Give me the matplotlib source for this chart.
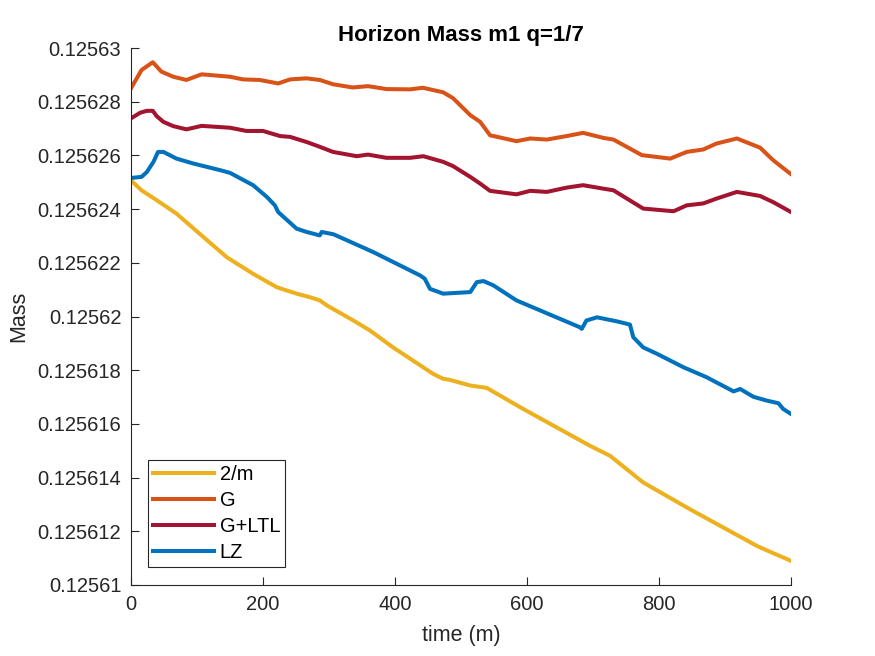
import numpy as np
import matplotlib
matplotlib.use("Agg")
import matplotlib.pyplot as plt
from matplotlib.ticker import MultipleLocator, FuncFormatter

plt.rcParams['font.family'] = ['Liberation Sans', 'DejaVu Sans']

# data (mass = 0.1256 + value * 1e-6)
t_2m = [0, 16, 39, 69, 105, 145, 185, 221, 251, 271, 286, 297, 337, 362, 397,
        458, 473, 483, 514, 539, 594, 695, 726, 776, 847, 948, 968, 1000]
m_2m = [25.07, 24.70, 24.33, 23.83, 23.06, 22.21, 21.59, 21.09, 20.85, 20.72,
        20.60, 20.41, 19.85, 19.48, 18.85, 17.86, 17.68, 17.64, 17.43, 17.34,
        16.56, 15.19, 14.81, 13.82, 12.82, 11.46, 11.24, 10.90]

t_g = [0, 16, 33, 46, 64, 84, 107, 150, 170, 195, 223, 241, 266, 286, 306, 336,
       359, 387, 423, 442, 473, 488, 514, 529, 544, 584, 605, 630, 660, 685, 716,
       731, 774, 817, 842, 867, 887, 918, 953, 973, 1000]
m_g = [28.50, 29.18, 29.47, 29.12, 28.93, 28.81, 29.02, 28.93, 28.83, 28.81,
       28.68, 28.83, 28.87, 28.81, 28.65, 28.53, 28.58, 28.47, 28.46, 28.52,
       28.35, 28.13, 27.50, 27.25, 26.75, 26.53, 26.63, 26.59, 26.72, 26.84,
       26.65, 26.59, 26.01, 25.88, 26.13, 26.22, 26.44, 26.63, 26.29, 25.82, 25.30]

t_gltl = [0, 14, 24, 33, 39, 49, 64, 84, 107, 150, 175, 200, 226, 241, 266, 286,
          306, 342, 359, 387, 423, 443, 473, 488, 514, 529, 544, 584, 605, 630,
          660, 685, 716, 731, 776, 822, 842, 867, 887, 918, 953, 973, 1000]
m_gltl = [27.38, 27.59, 27.66, 27.66, 27.46, 27.25, 27.09, 26.97, 27.10, 27.03,
          26.91, 26.91, 26.72, 26.69, 26.50, 26.32, 26.13, 25.97, 26.03, 25.91,
          25.91, 25.97, 25.76, 25.60, 25.20, 24.95, 24.68, 24.55, 24.68, 24.64,
          24.80, 24.89, 24.76, 24.70, 24.02, 23.92, 24.14, 24.21, 24.39, 24.64,
          24.49, 24.26, 23.89]

t_lz = [0, 16, 24, 34, 41, 49, 69, 94, 135, 150, 185, 206, 218, 223, 251, 266,
        286, 289, 307, 367, 438, 445, 453, 473, 514, 524, 534, 549, 584, 680,
        683, 690, 706, 736, 756, 761, 776, 797, 837, 872, 913, 923, 943, 963,
        981, 988, 1000]
m_lz = [25.16, 25.20, 25.38, 25.76, 26.13, 26.13, 25.88, 25.70, 25.45, 25.35,
        24.89, 24.45, 24.14, 23.89, 23.27, 23.15, 23.02, 23.15, 23.06, 22.40,
        21.53, 21.41, 21.03, 20.85, 20.91, 21.28, 21.32, 21.16, 20.60, 19.60,
        19.54, 19.85, 19.97, 19.82, 19.70, 19.23, 18.85, 18.61, 18.11, 17.74,
        17.21, 17.30, 17.01, 16.87, 16.77, 16.56, 16.37]

labels = ['2/m', 'G', 'G+LTL', 'LZ']
colors = ['#EDB120', '#D95319', '#A2142F', '#0072BD']

fig = plt.figure(figsize=(8.75, 6.56), dpi=100)
ax = fig.add_axes([131 / 875, 1 - 585 / 656, 660 / 875, 537 / 656])

series = [(t_2m, m_2m), (t_g, m_g), (t_gltl, m_gltl), (t_lz, m_lz)]
for (t, m), lab, c in zip(series, labels, colors):
    ax.plot(t, 0.1256 + np.array(m) * 1e-6, color=c, lw=2.9, label=lab)

ax.set_xlim(0, 1000)
ax.set_ylim(0.12561, 0.12563)
ax.xaxis.set_major_locator(MultipleLocator(200))
ax.yaxis.set_major_locator(MultipleLocator(2e-6))
ax.yaxis.set_major_formatter(FuncFormatter(lambda v, p: '%.6g' % v))

dark = '#262626'
for s in ['top', 'right']:
    ax.spines[s].set_visible(False)
for s in ['left', 'bottom']:
    ax.spines[s].set_color(dark)
    ax.spines[s].set_linewidth(0.8)
ax.tick_params(direction='in', length=6, width=0.8, colors=dark,
               labelsize=14.5, pad=7)

ax.set_title('Horizon Mass m1 q=1/7', fontsize=16, fontweight='bold', pad=5)
ax.set_xlabel('time (m)', fontsize=15.5, color=dark, labelpad=8)
ax.set_ylabel('Mass', fontsize=15.5, color=dark, labelpad=6)

leg = ax.legend(loc='lower left', bbox_to_anchor=(0.026, 0.034),
                borderaxespad=0, fontsize=14.5, handlelength=3.0,
                handletextpad=0.3, labelspacing=0.35, borderpad=0.25,
                fancybox=False, framealpha=1)
leg.get_frame().set_edgecolor(dark)
leg.get_frame().set_linewidth(0.8)

fig.savefig('out.png', dpi=100)
